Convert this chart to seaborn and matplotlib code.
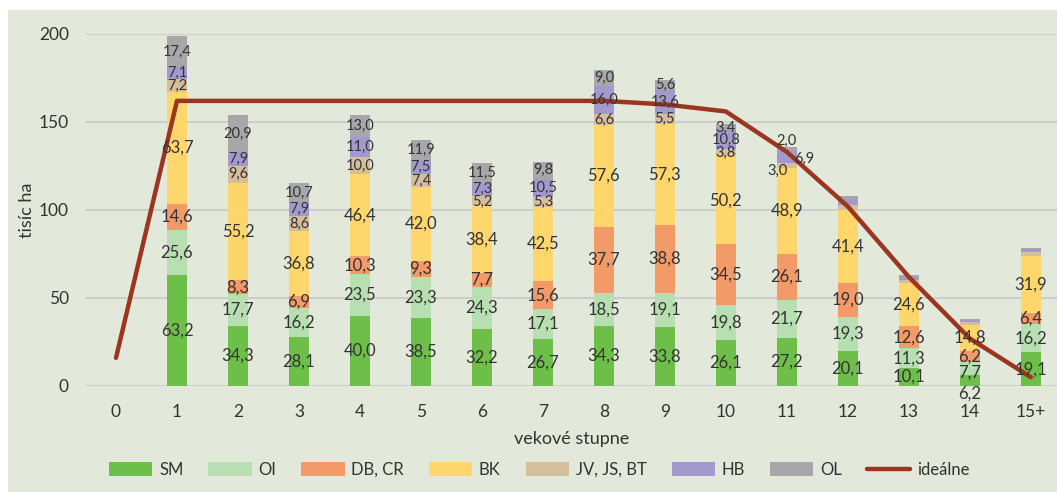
import matplotlib
matplotlib.use("Agg")
import matplotlib.pyplot as plt
from matplotlib.patches import Patch, Rectangle
from matplotlib.lines import Line2D
import numpy as np
import pandas as pd
import seaborn as sns

# age classes
ages = ["0", "1", "2", "3", "4", "5", "6", "7", "8", "9", "10", "11", "12", "13", "14", "15+"]

# tree species groups, thousand ha
sm = [0, 63.2, 34.3, 28.1, 40.0, 38.5, 32.2, 26.7, 34.3, 33.8, 26.1, 27.2, 20.1, 10.1, 6.2, 19.1]
oi = [0, 25.6, 17.7, 16.2, 23.5, 23.3, 24.3, 17.1, 18.5, 19.1, 19.8, 21.7, 19.3, 11.3, 7.7, 16.2]
db_cr = [0, 14.6, 8.3, 6.9, 10.3, 9.3, 7.7, 15.6, 37.7, 38.8, 34.5, 26.1, 19.0, 12.6, 6.2, 6.4]
bk = [0, 63.7, 55.2, 36.8, 46.4, 42.0, 38.4, 42.5, 57.6, 57.3, 50.2, 48.9, 41.4, 24.6, 14.8, 31.9]
jv = [0, 7.2, 9.6, 8.6, 10.0, 7.4, 5.2, 5.3, 6.6, 5.5, 3.8, 3.0, 2.8, 1.5, 1.3, 2.5]
hb = [0, 7.1, 7.9, 7.9, 11.0, 7.5, 7.3, 10.5, 16.0, 13.6, 10.8, 6.9, 3.4, 1.9, 1.1, 1.5]
ol = [0, 17.4, 20.9, 10.7, 13.0, 11.9, 11.5, 9.8, 9.0, 5.6, 3.4, 2.0, 1.7, 1.0, 0.6, 0.6]

# ideal age structure
idealne = [16, 162, 162, 162, 162, 162, 162, 162, 162, 160, 156, 133, 102, 62, 27, 5]

series_names = ["SM", "OI", "DB, CR", "BK", "JV, JS, BT", "HB", "OL"]
series_vals = [sm, oi, db_cr, bk, jv, hb, ol]
series_cols = ["#6EBE4A", "#B8DFB1", "#F39A69", "#FFD66C", "#D5BE9C", "#A29ACD", "#A7A6A9"]

panel = "#E2E8DA"
txt = "#333333"

df = pd.DataFrame(dict(zip(series_names, series_vals)), index=ages)
cum = df.cumsum(axis=1)

sns.set_theme(style="white")
plt.rcParams["font.family"] = ["Lato", "DejaVu Sans"]

fig = plt.figure(figsize=(10.57, 4.92), dpi=100)
fig.patches.append(Rectangle((8 / 1057, 0), 1, 1 - 10 / 492, transform=fig.transFigure,
                             facecolor=panel, edgecolor="none", zorder=-10))
ax = fig.add_axes([85.5 / 1057, 106 / 492, 1 - 85.5 / 1057, 352 / 492])
ax.set_facecolor(panel)
ax.patch.set_alpha(0)

# stacked bars: draw cumulative totals from the top layer down
for name, col in reversed(list(zip(series_names, series_cols))):
    sns.barplot(x=ages, y=cum[name].values, color=col, width=0.33, ax=ax,
                saturation=1, edgecolor="none", zorder=2)

# data labels
no_label = {12, 13, 14, 15}
nudge = {(11, "OL"): (0, 4.5), (11, "HB"): (0.28, -1.5), (11, "JV"): (-0.15, -3.0),
         (14, "SM"): (0, -7.5), (14, "OI"): (0, -2.5), (14, "DB"): (0, -0.5),
         (6, "HB"): (0, 0.8), (6, "JV"): (0, -0.8)}
for i in range(len(ages)):
    bottom = 0
    for name in series_names:
        v = df[name].iloc[i]
        if v > 0 and not (i in no_label and name in ("JV, JS, BT", "HB", "OL")):
            key = name.split(",")[0]
            dx, dy = nudge.get((i, key), (0, 0))
            small = name in ("JV, JS, BT", "HB", "OL")
            ax.text(i + dx, bottom + v / 2 + dy, f"{v:.1f}".replace(".", ","),
                    ha="center", va="center", fontsize=10.5 if small else 12,
                    color=txt, zorder=4)
        bottom += v

# ideal line
sns.lineplot(x=np.arange(len(ages)), y=idealne, color="#9B3520", linewidth=3.2,
             ax=ax, zorder=3)

ax.set_ylim(0, 200)
ax.set_xlim(-0.5, 15.43)
ax.set_yticks([0, 50, 100, 150, 200])
ax.yaxis.grid(True, color="#C9CBCB", linewidth=1.3, zorder=0)
ax.set_axisbelow(True)
for s in ax.spines.values():
    s.set_visible(False)
ax.tick_params(axis="both", length=0, labelsize=12.5, colors=txt)
ax.tick_params(axis="y", pad=12)
ax.tick_params(axis="x", pad=13)
ax.set_xticks(range(len(ages)))
ax.set_xticklabels(ages)
ax.set_ylabel("tisíc ha", fontsize=13, color=txt, labelpad=3)
ax.set_xlabel("vekové stupne", fontsize=13, color=txt, labelpad=8)

handles = [Patch(facecolor=c, edgecolor="none") for c in series_cols]
handles.append(Line2D([], [], color="#9B3520", linewidth=3.2))
fig.legend(handles, series_names + ["ideálne"], loc="center", bbox_to_anchor=(0.51, 0.045),
           ncol=8, frameon=False, fontsize=12, handlelength=2.6, handleheight=0.9,
           handletextpad=0.4, columnspacing=1.5, labelcolor=txt)

fig.savefig("out.png", dpi=100, facecolor="white")
